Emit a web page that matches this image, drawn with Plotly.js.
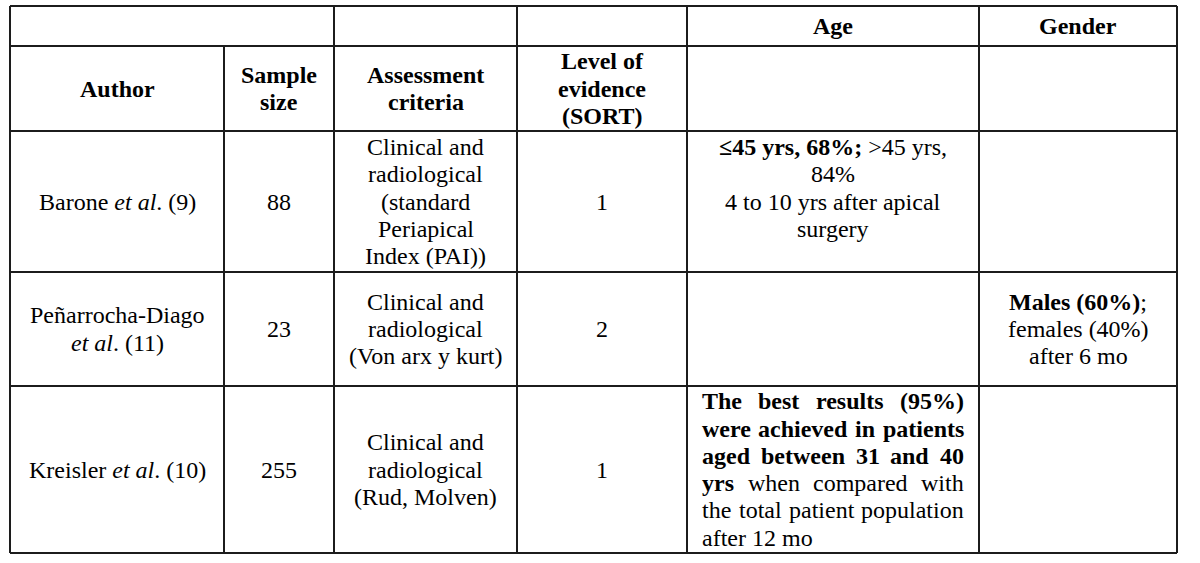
<!DOCTYPE html>
<html>
<head>
<meta charset="utf-8">
<script src="https://cdn.plot.ly/plotly-3.0.1.min.js"></script>
<style>
  html, body { margin: 0; padding: 0; background: #ffffff; }
  #chart { width: 1200px; height: 563px; }
</style>
</head>
<body>
<div id="chart"></div>
<script>
// ---------------- DATA ----------------
const groupHeaders = ['', '', '', 'Age', 'Gender'];
const columnHeaders = ['Author', 'Sample<br>size', 'Assessment<br>criteria', 'Level of<br>evidence<br>(SORT)', '', ''];
const authors = ['Barone <i>et al</i>. (9)', 'Peñarrocha-Diago<br><i>et al</i>. (11)', 'Kreisler <i>et al</i>. (10)'];
const sampleSizes = [88, 23, 255];
const assessmentCriteria = [
  'Clinical and<br>radiological<br>(standard<br>Periapical<br>Index (PAI))',
  'Clinical and<br>radiological<br>(Von arx y kurt)',
  'Clinical and<br>radiological<br>(Rud, Molven)'
];
const evidenceLevels = [1, 2, 1];
const ageFindings = [
  '<b>≤45 yrs, 68%;</b> &gt;45 yrs,<br>84%<br>4 to 10 yrs after apical<br>surgery<br>',
  '',
  '<b>The best results (95%)</b><br><b>were achieved in patients</b><br><b>aged between 31 and 40</b><br><b>yrs</b> when compared with<br>the total patient population<br>after 12 mo'
];
const genderFindings = ['', '<b>Males (60%)</b>;<br>females (40%)<br>after 6 mo', ''];

// ---------------- LAYOUT / STYLE ----------------
const W = 1200, H = 563;
const colEdges = [10, 224, 334, 517, 687, 979, 1177];
const rowEdges = [6, 46, 131, 272, 386, 553];
const groupSpans = [2, 1, 1, 1, 1];
const FONT_FAMILY = 'Times New Roman, Liberation Serif, Tinos, DejaVu Serif, Times, serif';
const CANVAS_FAMILY = '"Times New Roman", "Liberation Serif", Tinos, "DejaVu Serif", Times, serif';
const FONT_SIZE = 24;
const LINE_H = 27.3;
const CELL_PAD = 15;
const TEXT_COLOR = '#000000';
const RULE_COLOR = '#1c1c1c';
const RULE_W = 2;
const justifiedCell = { row: 2, col: 4 };

const annotations = [];
const shapes = [];

const canvas = document.createElement('canvas');
const ctx = canvas.getContext('2d');
function measure(word, bold) {
  ctx.font = (bold ? 'bold ' : '') + FONT_SIZE + 'px ' + CANVAS_FAMILY;
  return ctx.measureText(word).width;
}

function ann(text, x, y, anchor, bold) {
  annotations.push({
    text: text, x: x, y: y, xref: 'x', yref: 'y',
    xanchor: anchor, yanchor: 'middle', showarrow: false,
    borderpad: 0, borderwidth: 0,
    font: { family: FONT_FAMILY, size: FONT_SIZE, color: TEXT_COLOR, weight: bold ? 'bold' : 'normal' }
  });
}

function cellCentered(text, x0, x1, y0, y1, bold) {
  const content = String(text);
  if (content === '') return;
  const lines = content.split('<br>');
  const n = lines.length;
  const cx = (x0 + x1) / 2, cy = (y0 + y1) / 2;
  lines.forEach((ln, i) => {
    if (ln === '') return;
    ann(ln, cx, cy + (i - (n - 1) / 2) * LINE_H, 'center', bold);
  });
}

function cellJustified(text, x0, x1, y0, y1) {
  const lines = String(text).split('<br>');
  const n = lines.length;
  const left = x0 + CELL_PAD, right = x1 - CELL_PAD;
  const cy = (y0 + y1) / 2;
  lines.forEach((ln, i) => {
    const y = cy + (i - (n - 1) / 2) * LINE_H;
    let bold = false;
    const words = ln.split(' ').filter(w => w.length).map(w => {
      if (w.indexOf('<b>') >= 0) bold = true;
      const plain = w.replace(/<\/?b>/g, '');
      const wb = bold;
      if (w.indexOf('</b>') >= 0) bold = false;
      return { plain: plain, bold: wb, width: measure(plain, wb) };
    });
    if (i === n - 1 || words.length < 2) {
      let x = left;
      words.forEach(w => {
        ann(w.bold ? '<b>' + w.plain + '</b>' : w.plain, x, y, 'left', false);
        x += w.width + measure(' ', false);
      });
      return;
    }
    const total = words.reduce((s, w) => s + w.width, 0);
    const gap = (right - left - total) / (words.length - 1);
    let x = left;
    words.forEach(w => {
      ann(w.bold ? '<b>' + w.plain + '</b>' : w.plain, x, y, 'left', false);
      x += w.width + gap;
    });
  });
}

// top (group) header row
let c = 0;
groupHeaders.forEach((g, k) => {
  if (k >= groupSpans.length) return;
  const span = groupSpans[k];
  cellCentered(g, colEdges[c], colEdges[c + span], rowEdges[0], rowEdges[1], true);
  c += span;
});

// column header row
columnHeaders.forEach((h, j) => cellCentered(h, colEdges[j], colEdges[j + 1], rowEdges[1], rowEdges[2], true));

// body rows
const bodyColumns = [authors, sampleSizes, assessmentCriteria, evidenceLevels, ageFindings, genderFindings];
authors.forEach((_, r) => {
  bodyColumns.forEach((col, j) => {
    const x0 = colEdges[j], x1 = colEdges[j + 1];
    const y0 = rowEdges[r + 2], y1 = rowEdges[r + 3];
    if (r === justifiedCell.row && j === justifiedCell.col) cellJustified(col[r], x0, x1, y0, y1);
    else cellCentered(col[r], x0, x1, y0, y1, false);
  });
});

// rules
const ruleLine = { color: RULE_COLOR, width: RULE_W };
rowEdges.forEach(y => shapes.push({ type: 'line', xref: 'x', yref: 'y', x0: colEdges[0], x1: colEdges[colEdges.length - 1], y0: y, y1: y, line: ruleLine }));
colEdges.forEach((x, j) => {
  const top = (j === 1) ? rowEdges[1] : rowEdges[0];
  shapes.push({ type: 'line', xref: 'x', yref: 'y', x0: x, x1: x, y0: top, y1: rowEdges[rowEdges.length - 1], line: ruleLine });
});

const layout = {
  width: W, height: H,
  margin: { l: 0, r: 0, t: 0, b: 0, pad: 0 },
  paper_bgcolor: '#ffffff', plot_bgcolor: '#ffffff',
  showlegend: false,
  font: { family: FONT_FAMILY },
  xaxis: { range: [0, W], visible: false, fixedrange: true },
  yaxis: { range: [H, 0], visible: false, fixedrange: true },
  annotations: annotations,
  shapes: shapes
};

Plotly.newPlot('chart', [], layout, { displayModeBar: false, staticPlot: true });
</script>
</body>
</html>
